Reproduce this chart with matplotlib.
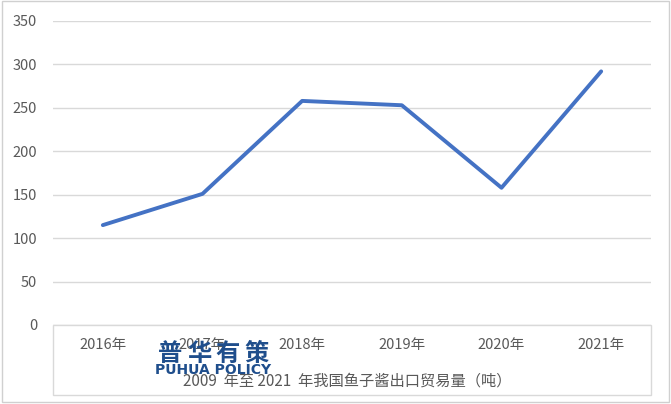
import matplotlib
matplotlib.use("Agg")
import matplotlib.pyplot as plt
from matplotlib.patches import Rectangle

plt.rcParams['font.family'] = ['Noto Sans CJK SC', 'DejaVu Sans']

years = ['2016年', '2017年', '2018年', '2019年', '2020年', '2021年']
values = [115, 151, 258, 253, 158, 292]
yticks = [0, 50, 100, 150, 200, 250, 300, 350]
caption = '2009  年至 2021  年我国鱼子酱出口贸易量（吨）'
logo_chars = ['普', '华', '有', '策']
logo_en = 'PUHUA POLICY'

W, H = 671, 404
fig = plt.figure(figsize=(W / 100, H / 100), dpi=100)
ax = fig.add_axes([53 / W, 1 - 325 / H, (651 - 53) / W, (325 - 21) / H])

x = list(range(len(years)))
ax.plot(x, values, color='#4472C4', lw=2.8, solid_capstyle='round', solid_joinstyle='round', zorder=3)
ax.set_xlim(-0.5, len(years) - 0.5)
ax.set_ylim(0, 350)
ax.set_yticks(yticks)
ax.set_yticklabels([str(v) for v in yticks], color='#595959', fontsize=10.5)
ax.set_xticks(x)
ax.set_xticklabels(years, color='#595959', fontsize=10.5)
ax.tick_params(axis='both', length=0)
ax.tick_params(axis='y', pad=11.5)
ax.tick_params(axis='x', pad=9)
ax.grid(axis='y', color='#D9D9D9', lw=1)
for s in ax.spines.values():
    s.set_visible(False)

# box around category area
fig.add_artist(Rectangle((53 / W, 1 - 395 / H), (651 - 53) / W, (395 - 325) / H,
                         transform=fig.transFigure, fill=False, edgecolor='#D9D9D9', lw=1))
# outer frame
fig.add_artist(Rectangle((2 / W, 1 - 402 / H), (669 - 2) / W, (402 - 1) / H,
                         transform=fig.transFigure, fill=False, edgecolor='#D0D0D0', lw=1))

fig.text(347 / W, 1 - 381 / H, caption, ha='center', va='center', fontsize=11, color='#595959')

# watermark
for i, ch in enumerate(logo_chars):
    fig.text((170 + i * 29) / W, 1 - 354 / H, ch, ha='center', va='center', fontsize=17.5,
             fontweight='heavy', color='#1F4E8C')
fig.text(213 / W, 1 - 370 / H, logo_en, ha='center', va='center', fontsize=10,
         fontweight='bold', color='#1F4E8C', family='DejaVu Sans')

fig.savefig('out.png', dpi=100)
